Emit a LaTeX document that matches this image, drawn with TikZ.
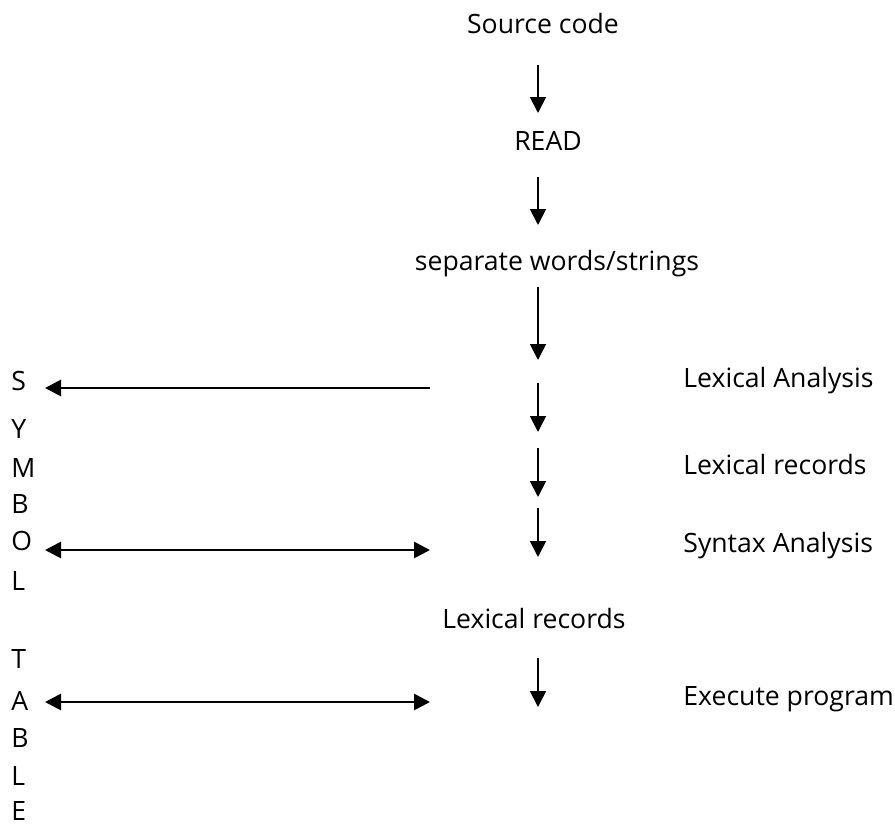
\documentclass[tikz,border=0pt]{standalone}
\usepackage{fontspec}
\setmainfont{Open Sans}
\usepackage{tikz}
\usetikzlibrary{arrows.meta}

\tikzset{
    lbl/.style={inner sep=0pt, font=\fontsize{13.3}{16}\selectfont},
    flow/.style={line width=0.9pt, -{Triangle[length=8pt,width=8pt]}},
    link/.style={line width=1.4pt, {Triangle[length=8pt,width=8pt]}-{Triangle[length=8pt,width=8pt]}},
    linkback/.style={line width=1.4pt, {Triangle[length=8pt,width=8pt]}-}
}

\begin{document}
\begin{tikzpicture}[x=0.5pt,y=-0.5pt]
    \useasboundingbox (0,0) rectangle (895,825);

    % main column
    \node[lbl, anchor=base] (src)  at (543,33)  {Source code};
    \node[lbl, anchor=base] (read) at (548,150) {READ};
    \node[lbl, anchor=base] (sep)  at (557,270) {separate words/strings};
    \node[lbl, anchor=base] (lexmid) at (534,628) {Lexical records};

    % right labels
    \node[lbl, anchor=base west] (lexan)  at (683,387) {Lexical Analysis};
    \node[lbl, anchor=base west] (lexrec) at (683,474) {Lexical records};
    \node[lbl, anchor=base west] (synan)  at (683,552) {Syntax Analysis};
    \node[lbl, anchor=base west] (exec)   at (683,705) {Execute program};

    % symbol table letters
    \foreach \ch/\yb [count=\i] in {S/390,Y/438,M/477,B/513,O/550,L/590,T/668,A/710,B/747,L/785,E/820}
        \node[lbl, anchor=base west] (sym\i) at (11,\yb) {\ch};

    % vertical arrows
    \foreach \ya/\yb [count=\i] in {65/113,177/225,287/360,383/432,448/497,508/557,658/707} {
        \coordinate (v\i a) at (538,\ya);
        \coordinate (v\i b) at (538,\yb);
        \draw[flow] (v\i a) -- (v\i b);
    }

    % links to the symbol table
    \coordinate (hS) at (430,388);  \coordinate (tS) at (45,388);
    \coordinate (hO) at (430,550);  \coordinate (tO) at (45,550);
    \coordinate (hA) at (430,702);  \coordinate (tA) at (45,702);
    \draw[linkback] (tS) -- (hS);
    \draw[link] (tO) -- (hO);
    \draw[link] (tA) -- (hA);
\end{tikzpicture}
\end{document}
